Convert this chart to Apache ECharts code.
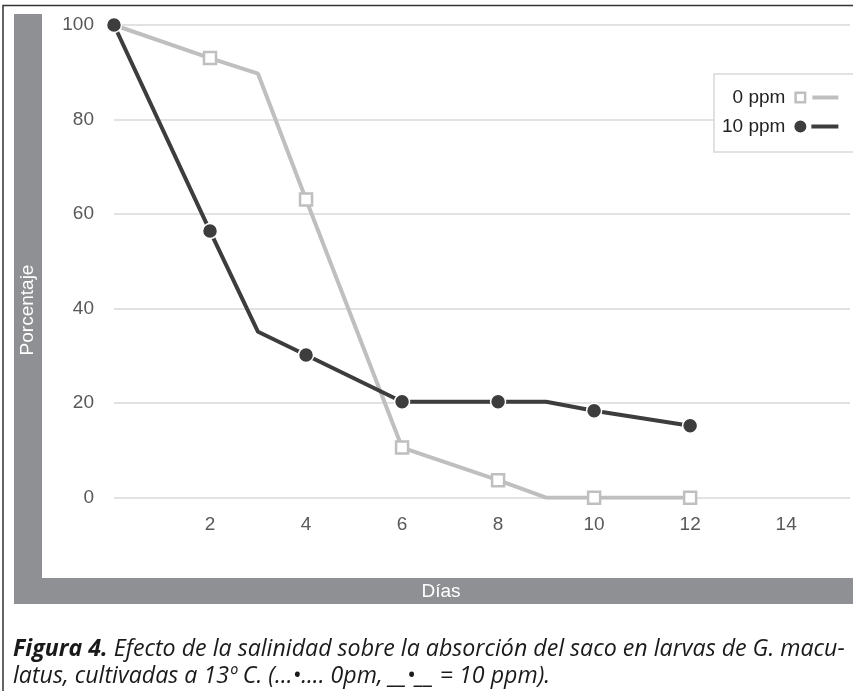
<!DOCTYPE html>
<html>
<head>
<meta charset="utf-8">
<script src="https://cdn.jsdelivr.net/npm/echarts@6/dist/echarts.min.js"></script>
<style>html,body{margin:0;padding:0;background:#fff}#c{width:853px;height:691px}</style>
</head>
<body>
<div id="c"></div>
<script>
// Data
const days = [0, 2, 3, 4, 6, 8, 9, 10, 12];
const ppm0 = [100, 93.0, 89.7, 63.1, 10.6, 3.7, 0, 0, 0];
const ppm10 = [100, 56.4, 35.1, 30.2, 20.3, 20.3, 20.3, 18.4, 15.2];
const seriesNames = ['0 ppm', '10 ppm'];
const xTicks = [2, 4, 6, 8, 10, 12, 14];
const yTicks = [0, 20, 40, 60, 80, 100];
const xTitle = 'Días';
const yTitle = 'Porcentaje';
const captionBold = 'Figura 4.';
const captionLine1 = ' Efecto de la salinidad sobre la absorción del saco en larvas de G. macu-';
const captionLine2 = 'latus, cultivadas a 13º C. (…•.... 0pm, __•__ = 10 ppm).';

const chart = echarts.init(document.getElementById('c'), null, {renderer: 'canvas'});

function build(values, marked) {
  return days.map((d, i) => {
    const item = {value: [d, values[i]]};
    if (!marked(d)) item.symbol = 'none';
    return item;
  });
}

// legend icons: marker followed by a short thick line (44 x 12 box)
const iconSquare = 'path://M0,0 L12,0 L12,12 L0,12 Z M2.5,2.5 L2.5,9.5 L9.5,9.5 L9.5,2.5 Z M18,4 L44,4 L44,8 L18,8 Z';
const iconCircle = 'path://M0,6 A6,6 0 1,0 12,6 A6,6 0 1,0 0,6 Z M17,4 L44,4 L44,8 L17,8 Z';

const option = {
  animation: false,
  backgroundColor: '#fff',
  grid: {left: 114, right: 3, top: 25, bottom: 193.3, containLabel: false},
  xAxis: {
    type: 'value', min: 0, max: 15.33, interval: 2,
    axisLine: {show: false}, axisTick: {show: false}, splitLine: {show: false},
    axisLabel: {
      color: '#595959', fontSize: 19, fontFamily: 'Liberation Sans', margin: 18,
      formatter: v => xTicks.indexOf(Math.round(v * 100) / 100) >= 0 ? String(v) : ''
    }
  },
  yAxis: {
    type: 'value', min: 0, max: 100, interval: 20,
    axisLine: {show: false}, axisTick: {show: false},
    splitLine: {lineStyle: {color: '#d9d9d9', width: 1.5}},
    axisLabel: {
      color: '#595959', fontSize: 19, fontFamily: 'Liberation Sans', margin: 20,
      formatter: v => yTicks.indexOf(v) >= 0 ? String(v) : ''
    }
  },
  legend: {
    orient: 'vertical', align: 'right', left: 714, top: 74,
    padding: [14, 40, 16, 8], itemGap: 10, itemWidth: 44, itemHeight: 12,
    borderColor: '#d9d9d9', borderWidth: 1.5, backgroundColor: '#fff',
    textStyle: {fontSize: 19, color: '#222', fontFamily: 'Liberation Sans', padding: [0, 4, 0, 0]},
    data: [
      {name: seriesNames[0], icon: iconSquare, itemStyle: {color: '#bfbfbf', borderWidth: 0}},
      {name: seriesNames[1], icon: iconCircle, itemStyle: {color: '#3d3d3d', borderWidth: 0}}
    ]
  },
  series: [
    {
      name: seriesNames[0], type: 'line', z: 2,
      data: build(ppm0, d => d % 2 === 0 && d > 0),
      symbol: 'rect', symbolSize: 12,
      lineStyle: {color: '#bfbfbf', width: 4},
      itemStyle: {color: '#ffffff', borderColor: '#bfbfbf', borderWidth: 2.5},
      emphasis: {disabled: true}
    },
    {
      name: seriesNames[1], type: 'line', z: 3,
      data: build(ppm10, d => d % 2 === 0),
      symbol: 'circle', symbolSize: 15,
      lineStyle: {color: '#3d3d3d', width: 4},
      itemStyle: {color: '#3d3d3d', borderColor: '#ffffff', borderWidth: 1.5},
      emphasis: {disabled: true}
    }
  ],
  graphic: [
    {type: 'rect', z: -1, shape: {x: 3, y: 5.5, width: 870, height: 700}, style: {fill: 'none', stroke: '#333', lineWidth: 1.5}},
    {type: 'rect', z: -1, shape: {x: 14, y: 14, width: 28, height: 590}, style: {fill: '#8f9093'}},
    {type: 'rect', z: -1, shape: {x: 14, y: 578, width: 850, height: 26}, style: {fill: '#8f9093'}},
    {type: 'text', x: 28, y: 310, rotation: Math.PI / 2,
      style: {text: yTitle, fill: '#fff', fontSize: 19, fontFamily: 'Liberation Sans', align: 'center', verticalAlign: 'middle'}},
    {type: 'text', x: 441, y: 592,
      style: {text: xTitle, fill: '#fff', fontSize: 19, fontFamily: 'Liberation Sans', align: 'center', verticalAlign: 'middle'}},
    {type: 'text', left: 13, top: 638,
      style: {
        text: '{b|' + captionBold + '}{i|' + captionLine1 + '}\n{i|' + captionLine2 + '}',
        rich: {
          b: {fontSize: 23.2, fontWeight: 'bold', fontStyle: 'italic', fontFamily: 'Open Sans', fill: '#1a1a1a', lineHeight: 27},
          i: {fontSize: 23.2, fontStyle: 'italic', fontFamily: 'Open Sans', fill: '#1a1a1a', lineHeight: 27}
        }
      }}
  ]
};
chart.setOption(option);
</script>
</body>
</html>
